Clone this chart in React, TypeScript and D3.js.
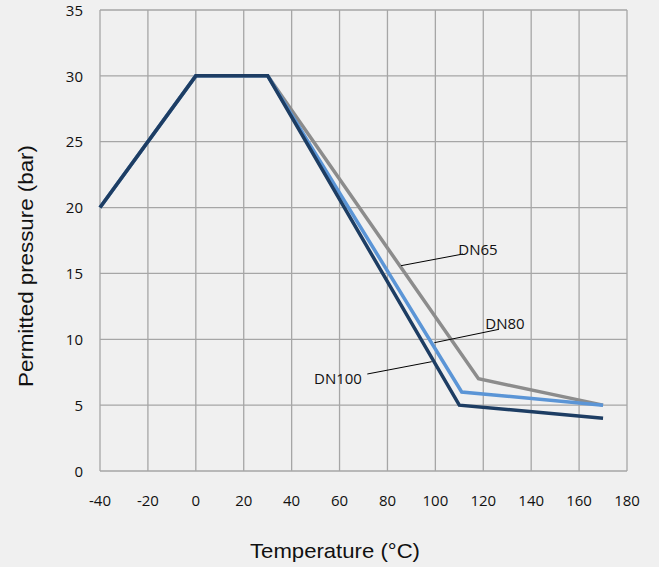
import React from "react";
import * as d3 from "d3";

const xTicks = [-40, -20, 0, 20, 40, 60, 80, 100, 120, 140, 160, 180];
const yTicks = [0, 5, 10, 15, 20, 25, 30, 35];

const dn65Temp = [-40, 0, 30, 118, 170];
const dn65Pressure = [20, 30, 30, 7, 5];
const dn80Temp = [-40, 0, 30, 111, 170];
const dn80Pressure = [20, 30, 30, 6, 5];
const dn100Temp = [-40, 0, 30, 110, 170];
const dn100Pressure = [20, 30, 30, 5, 4];

const seriesNames = ["DN65", "DN80", "DN100"];

const W = 659;
const H = 567;
const left = 100, right = 627, top = 10, bottom = 471;
const FONT = "'Open Sans', 'DejaVu Sans', sans-serif";
const TITLE_FONT = "'Liberation Sans', Arial, sans-serif";

export default function App() {
  const x = d3.scaleLinear().domain([-40, 180]).range([left, right]);
  const y = d3.scaleLinear().domain([0, 35]).range([bottom, top]);
  const line = d3
    .line<[number, number]>()
    .x((d) => x(d[0]))
    .y((d) => y(d[1]));

  const series = [
    { name: seriesNames[0], t: dn65Temp, p: dn65Pressure, color: "#8c8c8c" },
    { name: seriesNames[1], t: dn80Temp, p: dn80Pressure, color: "#5b95d6" },
    { name: seriesNames[2], t: dn100Temp, p: dn100Pressure, color: "#1d3d63" },
  ];

  const notes = [
    { name: seriesNames[0], tx: 478, ty: 250, from: [401, 265.7], to: [463, 254] },
    { name: seriesNames[1], tx: 505, ty: 324, from: [434.3, 342.7], to: [499, 329.3] },
    { name: seriesNames[2], tx: 338, ty: 378.5, from: [431.7, 361.7], to: [367.3, 374] },
  ];

  return (
    <div style={{ position: "fixed", left: 0, top: 0 }}>
      <svg width={W} height={H} style={{ display: "block", background: "#f0f0f0" }}>
        <rect x={0} y={0} width={W} height={H} fill="#f0f0f0" />
        {xTicks.map((t) => (
          <line key={"gx" + t} x1={x(t)} x2={x(t)} y1={top} y2={bottom} stroke="#a6a6a6" strokeWidth={1.3} />
        ))}
        {yTicks.map((t) => (
          <line key={"gy" + t} x1={left} x2={right} y1={y(t)} y2={y(t)} stroke="#a6a6a6" strokeWidth={1.3} />
        ))}
        {yTicks.map((t) => (
          <text key={"ly" + t} x={83} y={y(t)} dy="0.38em" textAnchor="end" fontFamily={FONT} fontSize={15} fill="#111">
            {t}
          </text>
        ))}
        {xTicks.map((t) => (
          <text key={"lx" + t} x={x(t)} y={501} dy="0.36em" textAnchor="middle" fontFamily={FONT} fontSize={15} fill="#111">
            {t}
          </text>
        ))}
        {series.map((s) => (
          <path
            key={s.name}
            d={line(s.t.map((t, i) => [t, s.p[i]] as [number, number])) || ""}
            fill="none"
            stroke={s.color}
            strokeWidth={3.5}
            strokeLinejoin="miter"
          />
        ))}
        {notes.map((n) => (
          <g key={"n" + n.name}>
            <line x1={n.from[0]} y1={n.from[1]} x2={n.to[0]} y2={n.to[1]} stroke="#000" strokeWidth={1} />
            <text x={n.tx} y={n.ty} dy="0.36em" textAnchor="middle" fontFamily={FONT} fontSize={15} fill="#111">
              {n.name}
            </text>
          </g>
        ))}
        <text
          transform={`translate(25,266) rotate(-90)`}
          textAnchor="middle"
          dy="0.36em"
          fontFamily={TITLE_FONT}
          fontSize={21}
          textLength={242}
          lengthAdjust="spacingAndGlyphs"
          fill="#111"
        >
          Permitted pressure (bar)
        </text>
        <text
          x={335}
          y={550}
          dy="0.36em"
          textAnchor="middle"
          fontFamily={TITLE_FONT}
          fontSize={21}
          textLength={170}
          lengthAdjust="spacingAndGlyphs"
          fill="#111"
        >
          Temperature (°C)
        </text>
      </svg>
    </div>
  );
}
